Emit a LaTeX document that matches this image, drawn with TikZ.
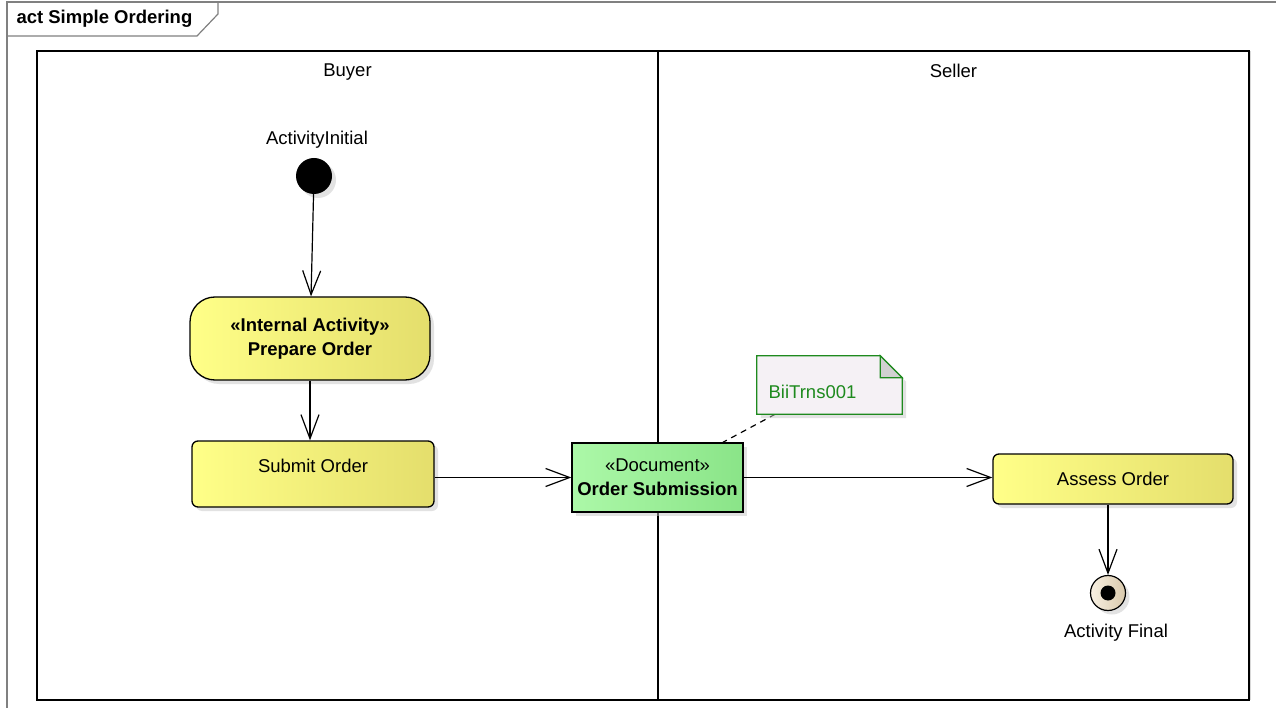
\documentclass[tikz,border=0pt]{standalone}
\usepackage{fontspec}
\setmainfont{Liberation Sans}
\usetikzlibrary{arrows.meta,shadows}
\definecolor{actleft}{HTML}{FFFF88}
\definecolor{actright}{HTML}{E4DE6C}
\definecolor{docleft}{HTML}{ACF8A8}
\definecolor{docright}{HTML}{8AE488}
\definecolor{notegreen}{HTML}{1E8A1E}
\definecolor{notefill}{HTML}{F5F1F5}
\definecolor{finalleft}{HTML}{F8F0E2}
\definecolor{finalright}{HTML}{D9C9AC}
\newcommand{\eafont}{\fontsize{18.5}{24}\selectfont}

\begin{document}
\begin{tikzpicture}[x=1pt,y=-1pt,font=\eafont,
  framebox/.style={draw=black!50,line width=1.2pt},
  lanebox/.style={draw,fill=white,line width=1.7pt,minimum height=649pt,
    drop shadow={shadow xshift=2pt,shadow yshift=0pt,fill=black!30}},
  shadowed/.style={drop shadow={shadow xshift=4pt,shadow yshift=-4pt,fill=black!22}},
  actbox/.style={shadowed,draw,line width=1.3pt,rounded corners=6pt,
    left color=actleft,right color=actright,align=center},
  docbox/.style={shadowed,draw,line width=1.3pt,
    left color=docleft,right color=docright,align=center},
  notebox/.style={shadowed,draw=notegreen,fill=notefill,line width=1.2pt},
  flow/.style={-{Straight Barb[length=24pt,width=18pt]},line width=1.2pt}
]
\useasboundingbox (0,0) rectangle (1276,708);
% frame and title tab
\draw[framebox] (7,708) -- (7,2) -- (1276,2);
\draw[framebox] (7,36) -- (197,36) -- (218,14) -- (218,2);
\node[anchor=west,font=\eafont\bfseries] (title) at (13,19) {act Simple Ordering};
% swimlanes
\foreach \lane/\x/\w/\name in {buyer/347.5/621/Buyer,seller/953.5/591/Seller}{
  \node[lanebox,minimum width=\w pt,
    label={[anchor=north,yshift=-10pt]north:\name}] (\lane) at (\x,375.5) {};
}
% activity nodes
\node[circle,fill=black,minimum size=36pt,shadowed,
  label={[xshift=3pt,yshift=6pt]above:ActivityInitial}] (init) at (314,176) {};
\node[actbox,rounded corners=25pt,minimum width=240pt,minimum height=83pt,
  font=\eafont\bfseries] (prepare) at (310,338.5) {«Internal Activity»\\Prepare Order};
\node[actbox,minimum width=242pt,minimum height=66pt,text depth=16pt] (submit) at (313,474) {Submit Order};
\node[docbox,minimum width=171pt,minimum height=69pt] (doc) at (657.5,477.5)
  {«Document»\\\textbf{Order Submission}};
\node[actbox,minimum width=240pt,minimum height=50pt] (assess) at (1113,479) {Assess Order};
\node[circle,draw,line width=1.2pt,minimum size=35pt,shadowed,
  left color=finalleft,right color=finalright,
  path picture={\fill[black] (path picture bounding box.center) circle (7.5pt);},
  label={[xshift=8pt,label distance=9pt]below:Activity Final}] (final) at (1108,593) {};
% note
\node[minimum width=145pt,minimum height=58pt] (note) at (829.5,385) {};
\draw[dash pattern=on 6pt off 5pt,line width=1.2pt] (note) -- (doc);
\filldraw[notebox] (note.south west) -- (note.north west) -- ([xshift=-22pt]note.north east)
  -- ([yshift=-22pt]note.north east) -- (note.south east) -- cycle;
\filldraw[draw=notegreen,fill=black!18,line width=1.2pt] ([xshift=-22pt]note.north east)
  -- ([xshift=-22pt,yshift=-22pt]note.north east) -- ([yshift=-22pt]note.north east) -- cycle;
\node[text=notegreen] (notetext) at ([xshift=-17pt,yshift=-7pt]note.center) {BiiTrns001};
% flows
\draw[flow] (init) -- (prepare);
\draw[flow] (prepare.south) -- (prepare.south |- submit.north);
\draw[flow] (submit.east |- doc.west) -- (doc.west);
\draw[flow] (doc.east) -- (doc.east -| assess.west);
\draw[flow] (assess.south -| final) -- (final);
\end{tikzpicture}
\end{document}
